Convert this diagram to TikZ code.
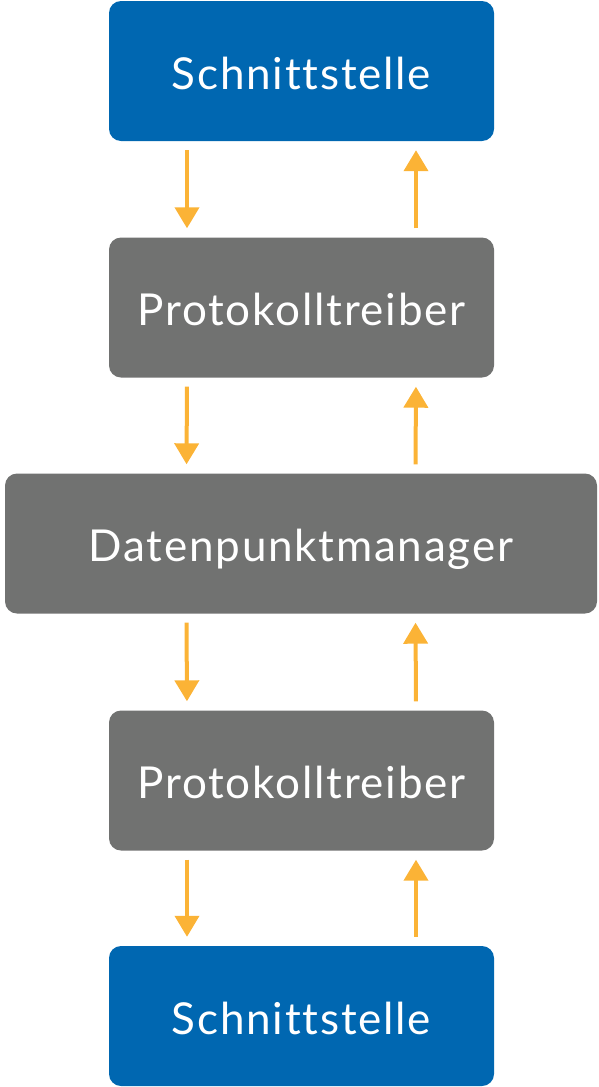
\documentclass[tikz,border=0pt]{standalone}
\usepackage{fontspec}
\setmainfont{Lato}[LetterSpace=4, Ligatures=NoCommon]
\usetikzlibrary{arrows.meta}
\definecolor{ifaceblue}{HTML}{0067B1}
\definecolor{layergray}{HTML}{717271}
\definecolor{floworange}{HTML}{FBB336}
\tikzset{
  layer/.style={rounded corners=12pt, minimum height=140pt, text=white,
    font=\fontsize{44}{50}\selectfont, inner sep=0pt,
    text height=36pt, text depth=0pt},
  iface/.style={layer, fill=ifaceblue, minimum width=385pt},
  driver/.style={layer, fill=layergray, minimum width=385pt},
  manager/.style={layer, fill=layergray, minimum width=592pt},
  flow/.style={draw=floworange, line width=4pt,
    -{Triangle[width=24pt,length=21pt]}, floworange,
    shorten <=9pt, shorten >=9pt}
}
\begin{document}
\begin{tikzpicture}[x=1pt,y=-1pt]
  \useasboundingbox (0,0) rectangle (598,1087);
  %%%%% layers %%%%%
  \node[iface]   (s1) at (301.5, 71)    {Schnittstelle};
  \node[driver]  (p1) at (301.5, 307.5) {Protokolltreiber};
  \node[manager] (dm) at (301, 543.5)   {Datenpunktmanager};
  \node[driver]  (p2) at (301.5, 780.5) {Protokolltreiber};
  \node[iface]   (s2) at (301.5, 1016)  {Schnittstelle};
  %%%%% flows %%%%%
  \foreach \a/\b in {s1/p1, p1/dm, dm/p2, p2/s2} {
    \draw[flow] ([xshift=-114.5pt]\a.south) -- ([xshift=-114.5pt]\b.north);
    \draw[flow] ([xshift=114.5pt]\b.north) -- ([xshift=114.5pt]\a.south);
  }
\end{tikzpicture}
\end{document}
